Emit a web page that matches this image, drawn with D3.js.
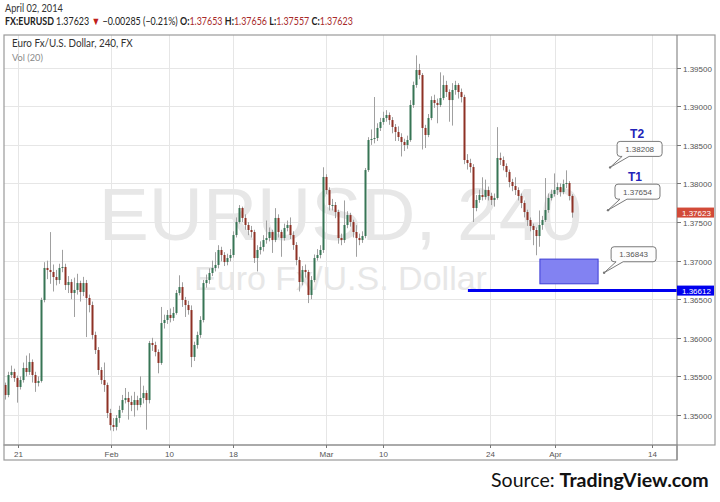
<!DOCTYPE html>
<html><head><meta charset="utf-8">
<script src="https://cdn.jsdelivr.net/npm/d3@7"></script>
<style>body{margin:0;background:#fff}svg{display:block}</style>
</head><body><svg id="c" width="720" height="502"></svg>
<script>
// ---- data (4h-style bars) ----
const firstOpen = 1.35389;
const closes = [1.35259,1.35518,1.35557,1.35479,1.35363,1.35453,1.35609,1.35557,1.35687,1.35518,
1.35415,1.35441,1.36490,1.36905,1.36879,1.36853,1.36788,1.36749,1.36905,1.36918,
1.36684,1.36723,1.36581,1.36620,1.36710,1.36594,1.36710,1.36516,1.36425,1.36037,
1.35842,1.35583,1.35453,1.35389,1.35026,1.34870,1.34845,1.34961,1.35065,1.35194,
1.35220,1.35168,1.35130,1.35194,1.35130,1.35220,1.35285,1.35194,1.35933,1.35907,
1.35816,1.35674,1.36192,1.36231,1.36296,1.36257,1.36322,1.36581,1.36658,1.36490,
1.36425,1.36360,1.35752,1.35907,1.36037,1.36231,1.36710,1.36749,1.36840,1.36905,
1.36944,1.37138,1.37073,1.36982,1.37034,1.37073,1.37332,1.37501,1.37682,1.37553,
1.37462,1.37397,1.37371,1.37034,1.37138,1.37177,1.37267,1.37293,1.37371,1.37267,
1.37553,1.37371,1.37293,1.37423,1.37462,1.37332,1.37203,1.37008,1.36723,1.36879,
1.36853,1.36555,1.36749,1.37034,1.37073,1.37138,1.38084,1.37915,1.37721,1.37721,
1.37630,1.37293,1.37267,1.37462,1.37591,1.37501,1.37371,1.37293,1.37267,1.37319,
1.38174,1.38563,1.38576,1.38589,1.38719,1.38796,1.38848,1.38887,1.38822,1.38732,
1.38667,1.38602,1.38537,1.38498,1.38563,1.39017,1.39276,1.39470,1.39405,1.38719,
1.38628,1.38848,1.39081,1.39043,1.39017,1.39107,1.39276,1.39185,1.39081,1.39211,
1.39276,1.39185,1.39120,1.38304,1.38265,1.38213,1.37682,1.37786,1.37851,1.37825,
1.37915,1.37838,1.37786,1.37812,1.38330,1.38304,1.38226,1.38149,1.38019,1.37967,
1.37915,1.37838,1.37747,1.37630,1.37527,1.37449,1.37397,1.37319,1.37462,1.37527,
1.37656,1.37812,1.37864,1.37915,1.37954,1.37889,1.37993,1.38006,1.37838,1.37623];
const highs = [1.35420,1.35560,1.35640,1.35600,1.35510,1.35500,1.35680,1.35770,1.35800,1.35720,
1.35560,1.35500,1.36520,1.36980,1.37000,1.37370,1.36950,1.36880,1.36960,1.37140,
1.36960,1.36800,1.36760,1.36780,1.36830,1.36740,1.36790,1.36750,1.36560,1.36470,
1.36080,1.35880,1.35620,1.35680,1.35420,1.35080,1.34960,1.35000,1.35120,1.35260,
1.35350,1.35300,1.35250,1.35300,1.35250,1.35500,1.35380,1.35320,1.35960,1.36000,
1.35950,1.35850,1.36400,1.36300,1.36360,1.36380,1.36400,1.36620,1.36810,1.36720,
1.36530,1.36480,1.36420,1.35950,1.36080,1.36280,1.36750,1.36820,1.36900,1.37000,
1.37110,1.37200,1.37180,1.37110,1.37090,1.37150,1.37380,1.37560,1.37720,1.37700,
1.37600,1.37500,1.37450,1.37400,1.37200,1.37250,1.37330,1.37520,1.37430,1.37400,
1.37680,1.37600,1.37400,1.37480,1.37520,1.37560,1.37380,1.37240,1.37050,1.36930,
1.36950,1.36880,1.36800,1.37080,1.37150,1.37200,1.38210,1.38120,1.37950,1.37800,
1.37760,1.37660,1.37350,1.37780,1.37640,1.37620,1.37530,1.37460,1.37350,1.37380,
1.38200,1.38600,1.38700,1.39120,1.38780,1.38850,1.38930,1.38950,1.38920,1.38860,
1.38770,1.38740,1.38650,1.38580,1.38620,1.39080,1.39320,1.39660,1.39550,1.39430,
1.38760,1.38900,1.39130,1.39150,1.39100,1.39440,1.39400,1.39330,1.39220,1.39300,
1.39330,1.39300,1.39230,1.39150,1.38380,1.38320,1.38250,1.37850,1.37920,1.38080,
1.38050,1.37960,1.37880,1.37870,1.38730,1.38400,1.38350,1.38260,1.38180,1.38060,
1.38080,1.37950,1.37870,1.37780,1.37660,1.37560,1.37480,1.37430,1.37650,1.37580,
1.38070,1.37870,1.37920,1.38130,1.38010,1.38000,1.38050,1.38170,1.38030,1.37860];
const lows = [1.35200,1.35230,1.35480,1.35430,1.35160,1.35330,1.35420,1.35500,1.35520,1.35420,
1.35300,1.35370,1.35420,1.36460,1.36760,1.36700,1.36600,1.36680,1.36700,1.36850,
1.36620,1.36580,1.36500,1.36270,1.36560,1.36470,1.36540,1.36010,1.36330,1.35980,
1.35790,1.35520,1.35400,1.35300,1.34960,1.34800,1.34790,1.34800,1.34900,1.35030,
1.35150,1.34940,1.35050,1.34980,1.35060,1.35100,1.35150,1.34810,1.35150,1.35830,
1.35760,1.35540,1.35650,1.36120,1.36180,1.36200,1.36220,1.36300,1.36550,1.36400,
1.36270,1.36300,1.35620,1.35700,1.35860,1.36000,1.36200,1.36650,1.36700,1.36800,
1.36860,1.36900,1.36990,1.36930,1.36940,1.36990,1.37040,1.37300,1.37480,1.37500,
1.37400,1.37330,1.37300,1.36970,1.36860,1.37080,1.37120,1.37220,1.37250,1.37100,
1.37240,1.37300,1.37050,1.37260,1.37380,1.37280,1.37140,1.36940,1.36600,1.36680,
1.36780,1.36450,1.36500,1.36720,1.37000,1.37030,1.37100,1.37860,1.37650,1.37650,
1.37550,1.37220,1.37200,1.37230,1.37420,1.37440,1.37300,1.37050,1.37200,1.37230,
1.37290,1.38150,1.38500,1.38520,1.38550,1.38680,1.38760,1.38800,1.38760,1.38650,
1.38550,1.38550,1.38350,1.38420,1.38450,1.38540,1.38980,1.39240,1.39350,1.38440,
1.38460,1.38600,1.38820,1.38980,1.38780,1.38990,1.39080,1.39120,1.38800,1.38750,
1.39150,1.39100,1.39050,1.38250,1.38180,1.38140,1.37500,1.37640,1.37750,1.37780,
1.37790,1.37780,1.37720,1.37700,1.37790,1.38240,1.38170,1.38080,1.37950,1.37900,
1.37850,1.37780,1.37680,1.37560,1.37450,1.37380,1.37200,1.37070,1.37180,1.37400,
1.37500,1.37620,1.37780,1.37830,1.37850,1.37830,1.37860,1.37940,1.37780,1.37557];

const xTickLabels = ["21","Feb","10","18","Mar","10","24","Apr","14"];
const xTickBars = [4.43, 35.33, 54.67, 76, 107, 126, 161.67, 183.33, 215.67];
const yTickValues = [1.350,1.355,1.360,1.365,1.370,1.375,1.380,1.385,1.390,1.395];
const yTickLabels = ["1.35000","1.35500","1.36000","1.36500","1.37000","1.37500","1.38000","1.38500","1.39000","1.39500"];
const lastPrice = 1.37623, lastPriceLabel = "1.37623";
const supportPrice = 1.36612, supportLabel = "1.36612", supportStartBar = 154.3;
const zoneBars = [178.3, 197.7];
const zonePrices = [1.3702, 1.3670];
const calloutNames = ["T2","T1",""];
const calloutValues = [1.38208, 1.37654, 1.36843];
const calloutLabels = ["1.38208","1.37654","1.36843"];
const calloutBars = [201.7, 201.0, 199.7];

// ---- setup ----
const svg = d3.select("#c");
const L = 4, R = 677, T = 35, B = 445;
const xs = d3.scaleLinear().domain([-0.33, 224]).range([L, R]);
const ys = d3.scaleLinear().domain([1.35, 1.395]).range([415, 67.7]);
const bars = closes.map((c,i)=>({i, o: i===0?firstOpen:closes[i-1], c, h: highs[i], l: lows[i]}));

svg.append("rect").attr("width",720).attr("height",502).attr("fill","#fff");

function fitX(sel, x, target){
  const w = sel.node().getComputedTextLength();
  const s = target / w;
  sel.attr("transform", `translate(${x},0) scale(${s},1) translate(${-x},0)`);
}
const hf = "Lato, 'Open Sans', sans-serif";

// header
const t1 = svg.append("text").attr("x",5).attr("y",12).attr("font-family",hf).attr("font-size",11).attr("fill","#333").text("April 02, 2014");
fitX(t1,5,58);
const t2 = svg.append("text").attr("x",5).attr("y",25).attr("font-family",hf).attr("font-size",11).attr("fill","#222");
const red = "#a82a2a";
[["FX:EURUSD ",true,"#222"],["1.37623 ",false,"#222"],["\u25BC",false,"#c0201a"],[" \u22120.00285 (\u22120.21%) ",false,"#222"],
 ["O:",true,"#222"],["1.37653 ",false,red],["H:",true,"#222"],["1.37656 ",false,red],["L:",true,"#222"],["1.37557 ",false,red],["C:",true,"#222"],["1.37623",false,red]]
 .forEach(([s,b,col])=>t2.append("tspan").attr("font-weight",b?"bold":"normal").attr("fill",col).text(s));
fitX(t2,5,348);

// grid
const g = svg.append("g");
g.selectAll(".hg").data(yTickValues).join("line")
  .attr("x1",L).attr("x2",R).attr("y1",d=>Math.round(ys(d))+0.5).attr("y2",d=>Math.round(ys(d))+0.5)
  .attr("stroke","#e6e6e6");
g.selectAll(".vg").data(xTickBars).join("line")
  .attr("y1",T).attr("y2",B).attr("x1",d=>Math.round(xs(d))+0.5).attr("x2",d=>Math.round(xs(d))+0.5)
  .attr("stroke","#e6e6e6");

// watermark
const cx = (L+R)/2;
svg.append("text").attr("x",cx).attr("y",240).attr("text-anchor","middle")
  .attr("font-family","'Liberation Sans', Arial, sans-serif").attr("font-size",75).attr("fill","#e7e7e7").text("EURUSD, 240");
svg.append("text").attr("x",cx).attr("y",290).attr("text-anchor","middle")
  .attr("font-family","'Liberation Sans', Arial, sans-serif").attr("font-size",34).attr("fill","#e7e7e7").text("Euro Fx/U.S. Dollar");

// title
svg.append("text").attr("x",12).attr("y",47).attr("font-family",hf).attr("font-size",10.5).attr("fill","#333").text("Euro Fx/U.S. Dollar, 240, FX")
  .call(s=>fitX(s,12,121));
svg.append("text").attr("x",12).attr("y",61).attr("font-family",hf).attr("font-size",10).attr("fill","#8a8a8a").text("Vol (20)")
  .call(s=>fitX(s,12,31));

// candles
svg.append("clipPath").attr("id","pc").append("rect").attr("x",L).attr("y",T).attr("width",R-L).attr("height",B-T);
const cg = svg.append("g").attr("clip-path","url(#pc)");
cg.selectAll(".wk").data(bars).join("line")
  .attr("x1",d=>Math.round(xs(d.i))+0.5).attr("x2",d=>Math.round(xs(d.i))+0.5)
  .attr("y1",d=>ys(d.h)).attr("y2",d=>ys(d.l)).attr("stroke","#a0a0a0").attr("stroke-width",1);
cg.selectAll(".bd").data(bars).join("rect")
  .attr("x",d=>Math.round(xs(d.i))-0.5).attr("width",2)
  .attr("y",d=>ys(Math.max(d.o,d.c)))
  .attr("height",d=>Math.max(1, ys(Math.min(d.o,d.c))-ys(Math.max(d.o,d.c))))
  .attr("fill",d=>d.c>=d.o?"#377555":"#8e3125");

// zone box
svg.append("rect").attr("x",xs(zoneBars[0])).attr("width",xs(zoneBars[1])-xs(zoneBars[0]))
  .attr("y",ys(zonePrices[0])).attr("height",ys(zonePrices[1])-ys(zonePrices[0]))
  .attr("fill","#8282f2").attr("stroke","#3c3cd6").attr("stroke-width",1);

// support line
svg.append("line").attr("x1",xs(supportStartBar)).attr("x2",R).attr("y1",ys(supportPrice)).attr("y2",ys(supportPrice))
  .attr("stroke","#0000f0").attr("stroke-width",3);

// callouts
calloutValues.forEach((v,i)=>{
  const ax = xs(calloutBars[i]), ay = ys(v);
  const l = ax+7, t = ay-26, w = 45, h = 15, r = 3, b = t+h;
  const p = `M${l+r},${t} H${l+w-r} Q${l+w},${t} ${l+w},${t+r} V${b-r} Q${l+w},${b} ${l+w-r},${b} H${l+12} L${ax},${ay} L${l+5},${b} H${l+r} Q${l},${b} ${l},${b-r} V${t+r} Q${l},${t} ${l+r},${t} Z`;
  svg.append("path").attr("d",p).attr("fill","#fdfdfd").attr("stroke","#7a7a7a").attr("stroke-width",1);
  svg.append("circle").attr("cx",ax).attr("cy",ay).attr("r",1.2).attr("fill","#777");
  svg.append("text").attr("x",l+w/2).attr("y",t+10.5).attr("text-anchor","middle")
    .attr("font-family","'Liberation Sans', Arial, sans-serif").attr("font-size",8).attr("fill","#555").text(calloutLabels[i]);
  if (calloutNames[i]) svg.append("text").attr("x",l+20).attr("y",t-3.5).attr("text-anchor","middle")
    .attr("font-family","'Liberation Sans', Arial, sans-serif").attr("font-weight","bold").attr("font-size",12).attr("fill","#2323b8").text(calloutNames[i]);
});

// frame
svg.append("rect").attr("x",L).attr("y",T).attr("width",715-L).attr("height",B-T).attr("fill","none").attr("stroke","#9a9a9a").attr("stroke-width",1.2);
svg.append("rect").attr("x",L).attr("y",B).attr("width",R-L).attr("height",15).attr("fill","none").attr("stroke","#9a9a9a").attr("stroke-width",1.2);
svg.append("line").attr("x1",R).attr("x2",R).attr("y1",T).attr("y2",B+15).attr("stroke","#8a8a8a").attr("stroke-width",1.2);

// y axis
const af = "'Liberation Sans', Arial, sans-serif";
yTickValues.forEach((v,i)=>{
  const y = Math.round(ys(v))+0.5;
  svg.append("line").attr("x1",R).attr("x2",R+4).attr("y1",y).attr("y2",y).attr("stroke","#777");
  svg.append("text").attr("x",R+6).attr("y",y+3).attr("font-family",af).attr("font-size",8).attr("fill","#555").text(yTickLabels[i]);
});
// x axis
xTickBars.forEach((b,i)=>{
  const x = Math.round(xs(b))+0.5;
  svg.append("line").attr("x1",x).attr("x2",x).attr("y1",B).attr("y2",B+3).attr("stroke","#777");
  svg.append("text").attr("x",x).attr("y",B+12).attr("text-anchor","middle").attr("font-family",af).attr("font-size",8).attr("fill","#555").text(xTickLabels[i]);
});

// price labels
function priceTag(p, label, col){
  const y = ys(p);
  svg.append("rect").attr("x",R).attr("y",y-5).attr("width",37).attr("height",10).attr("fill",col);
  svg.append("text").attr("x",R+5).attr("y",y+3).attr("font-family",af).attr("font-size",8).attr("fill","#fff").text(label);
}
priceTag(lastPrice, lastPriceLabel, "#d24a38");
priceTag(supportPrice, supportLabel, "#0000ee");

// source
const st = svg.append("text").attr("x",491).attr("y",487).attr("font-family",hf).attr("font-size",19).attr("fill","#111");
st.append("tspan").text("Source: ");
st.append("tspan").attr("font-weight","bold").text("TradingView.com");
fitX(st,491,218);
</script></body></html>
